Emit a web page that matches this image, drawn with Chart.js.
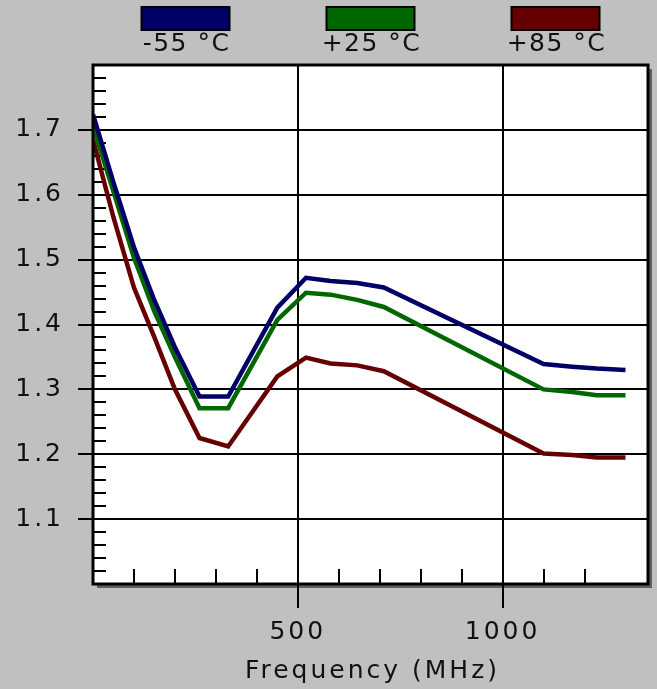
<!DOCTYPE html>
<html>
<head>
<meta charset="utf-8">
<script src="https://cdn.jsdelivr.net/npm/chart.js@4/dist/chart.umd.min.js"></script>
<style>
    html, body { margin: 0; padding: 0; background: #c0c0c0; }
    canvas { display: block; }
</style>
</head>
<body>
<canvas id="mainGraph" width="657" height="689"></canvas>
<script>
const frequencies = [0, 50, 100, 150, 200, 260, 330, 450, 520, 580, 645, 710, 1100, 1170, 1230, 1300]
const coldValues = [1.724, 1.619, 1.519, 1.437, 1.365, 1.289, 1.289, 1.426, 1.472, 1.467, 1.464, 1.457, 1.339, 1.335, 1.332, 1.330]
const roomValues = [1.705, 1.605, 1.503, 1.420, 1.350, 1.271, 1.271, 1.407, 1.449, 1.446, 1.438, 1.427, 1.300, 1.296, 1.291, 1.291]
const hotValues = [1.685, 1.565, 1.457, 1.380, 1.300, 1.225, 1.212, 1.320, 1.349, 1.340, 1.337, 1.328, 1.201, 1.199, 1.195, 1.195]
const seriesLabels = ["-55 °C", "+25 °C", "+85 °C"]
const seriesColors = ["#000066", "#006600", "#660000"]
const xLabelled = [500, 1000]
const yLabelled = [1.1, 1.2, 1.3, 1.4, 1.5, 1.6, 1.7]

const fontFamily = "'DejaVu Sans', sans-serif"
const textColor = "#111111"

const isMajorY = (v) => yLabelled.some((l) => Math.abs(l - v) < 1e-6)
const isMajorX = (v) => xLabelled.includes(Math.round(v))

const toPoints = (values) => frequencies.map((f, i) => ({x: f, y: values[i]}))

const spacingPlugin = {
    id: "spacing",
    beforeUpdate: (chart) => { chart.ctx.letterSpacing = "3px" },
    beforeDraw: (chart) => {
        const ctx = chart.ctx
        const a = chart.chartArea
        ctx.letterSpacing = "3px"
        ctx.save()
        ctx.fillStyle = "#606060"
        ctx.fillRect(a.left + 4, a.top + 4, a.right - a.left, a.bottom - a.top)
        ctx.fillStyle = "#ffffff"
        ctx.fillRect(a.left, a.top, a.right - a.left, a.bottom - a.top)
        ctx.restore()
    }
}

const minorTicksPlugin = {
    id: "minorTicks",
    beforeDatasetsDraw: (chart) => {
        const ctx = chart.ctx
        const a = chart.chartArea
        const xs = chart.scales.x
        const ys = chart.scales.y
        ctx.save()
        ctx.strokeStyle = "#000000"
        ctx.lineWidth = 2
        ctx.beginPath()
        ys.ticks.forEach((t) => {
            if (isMajorY(t.value)) return
            const py = Math.round(ys.getPixelForValue(t.value))
            ctx.moveTo(a.left, py)
            ctx.lineTo(a.left + 13, py)
        })
        xs.ticks.forEach((t) => {
            if (isMajorX(t.value) || t.value <= 0 || t.value >= xs.max) return
            const px = Math.round(xs.getPixelForValue(t.value))
            ctx.moveTo(px, a.bottom)
            ctx.lineTo(px, a.bottom - 15)
        })
        ctx.stroke()
        ctx.restore()
    },
    afterDraw: (chart) => {
        const ctx = chart.ctx
        const a = chart.chartArea
        ctx.save()
        ctx.strokeStyle = "#000000"
        ctx.lineWidth = 3
        ctx.strokeRect(a.left, a.top, a.right - a.left, a.bottom - a.top)

        // legend: coloured boxes with the label underneath
        const mid = (a.left + a.right) / 2
        ctx.font = `25px ${fontFamily}`
        ctx.letterSpacing = "1.5px"
        ctx.textAlign = "center"
        ctx.textBaseline = "middle"
        chart.data.datasets.forEach((ds, i) => {
            const cx = mid + (i - 1) * 185
            ctx.fillStyle = ds.borderColor
            ctx.fillRect(cx - 44, 7, 88, 23)
            ctx.lineWidth = 2
            ctx.strokeStyle = "#000000"
            ctx.strokeRect(cx - 44, 7, 88, 23)
            ctx.fillStyle = textColor
            ctx.fillText(ds.label, cx + 1, 44)
        })
        ctx.restore()
    }
}

const chartData = {
    datasets: [coldValues, roomValues, hotValues].map((values, i) => ({
        label: seriesLabels[i],
        data: toPoints(values),
        borderColor: seriesColors[i],
        backgroundColor: seriesColors[i],
        borderWidth: 4.5,
        pointRadius: 0,
        tension: 0,
        fill: false
    }))
}

const tickFont = {size: 25, family: fontFamily}

new Chart(document.getElementById("mainGraph"), {
    type: "line",
    data: chartData,
    options: {
        responsive: false,
        animation: false,
        devicePixelRatio: 1,
        layout: {padding: {top: 65, right: 9, left: 0, bottom: 0}},
        scales: {
            x: {
                type: "linear",
                min: 0,
                max: 1355,
                afterFit: (scale) => { scale.height = 105 },
                grid: {
                    color: (c) => isMajorX(c.tick.value) ? "#000000" : "rgba(0,0,0,0)",
                    tickColor: (c) => isMajorX(c.tick.value) ? "#000000" : "rgba(0,0,0,0)",
                    lineWidth: 2,
                    tickLength: 24,
                    tickWidth: 2
                },
                border: {display: false},
                ticks: {
                    stepSize: 100,
                    autoSkip: false,
                    maxRotation: 0,
                    maxTicksLimit: 100,
                    padding: 9,
                    color: textColor,
                    font: tickFont,
                    callback: (v) => isMajorX(v) ? String(v) : ""
                }
            },
            y: {
                min: 1.0,
                max: 1.8,
                afterFit: (scale) => { scale.width = 93 },
                grid: {
                    color: (c) => isMajorY(c.tick.value) ? "#000000" : "rgba(0,0,0,0)",
                    tickColor: (c) => isMajorY(c.tick.value) ? "#000000" : "rgba(0,0,0,0)",
                    lineWidth: 2,
                    tickLength: 15,
                    tickWidth: 2
                },
                border: {display: false},
                ticks: {
                    stepSize: 0.02,
                    autoSkip: false,
                    maxTicksLimit: 100,
                    padding: 14,
                    color: textColor,
                    font: tickFont,
                    callback: (v) => isMajorY(v) ? Number(v).toFixed(1) : ""
                }
            }
        },
        plugins: {
            legend: {display: false},
            tooltip: {enabled: false}
        }
    },
    plugins: [spacingPlugin, minorTicksPlugin, {
        id: "axisTitle",
        afterDraw: (chart) => {
            const ctx = chart.ctx
            const a = chart.chartArea
            ctx.save()
            ctx.font = `25px ${fontFamily}`
            ctx.letterSpacing = "3px"
            ctx.fillStyle = textColor
            ctx.textAlign = "center"
            ctx.textBaseline = "alphabetic"
            ctx.fillText("Frequency (MHz)", (a.left + a.right) / 2 + 2, 678)
            ctx.restore()
        }
    }]
})
</script>
</body>
</html>
